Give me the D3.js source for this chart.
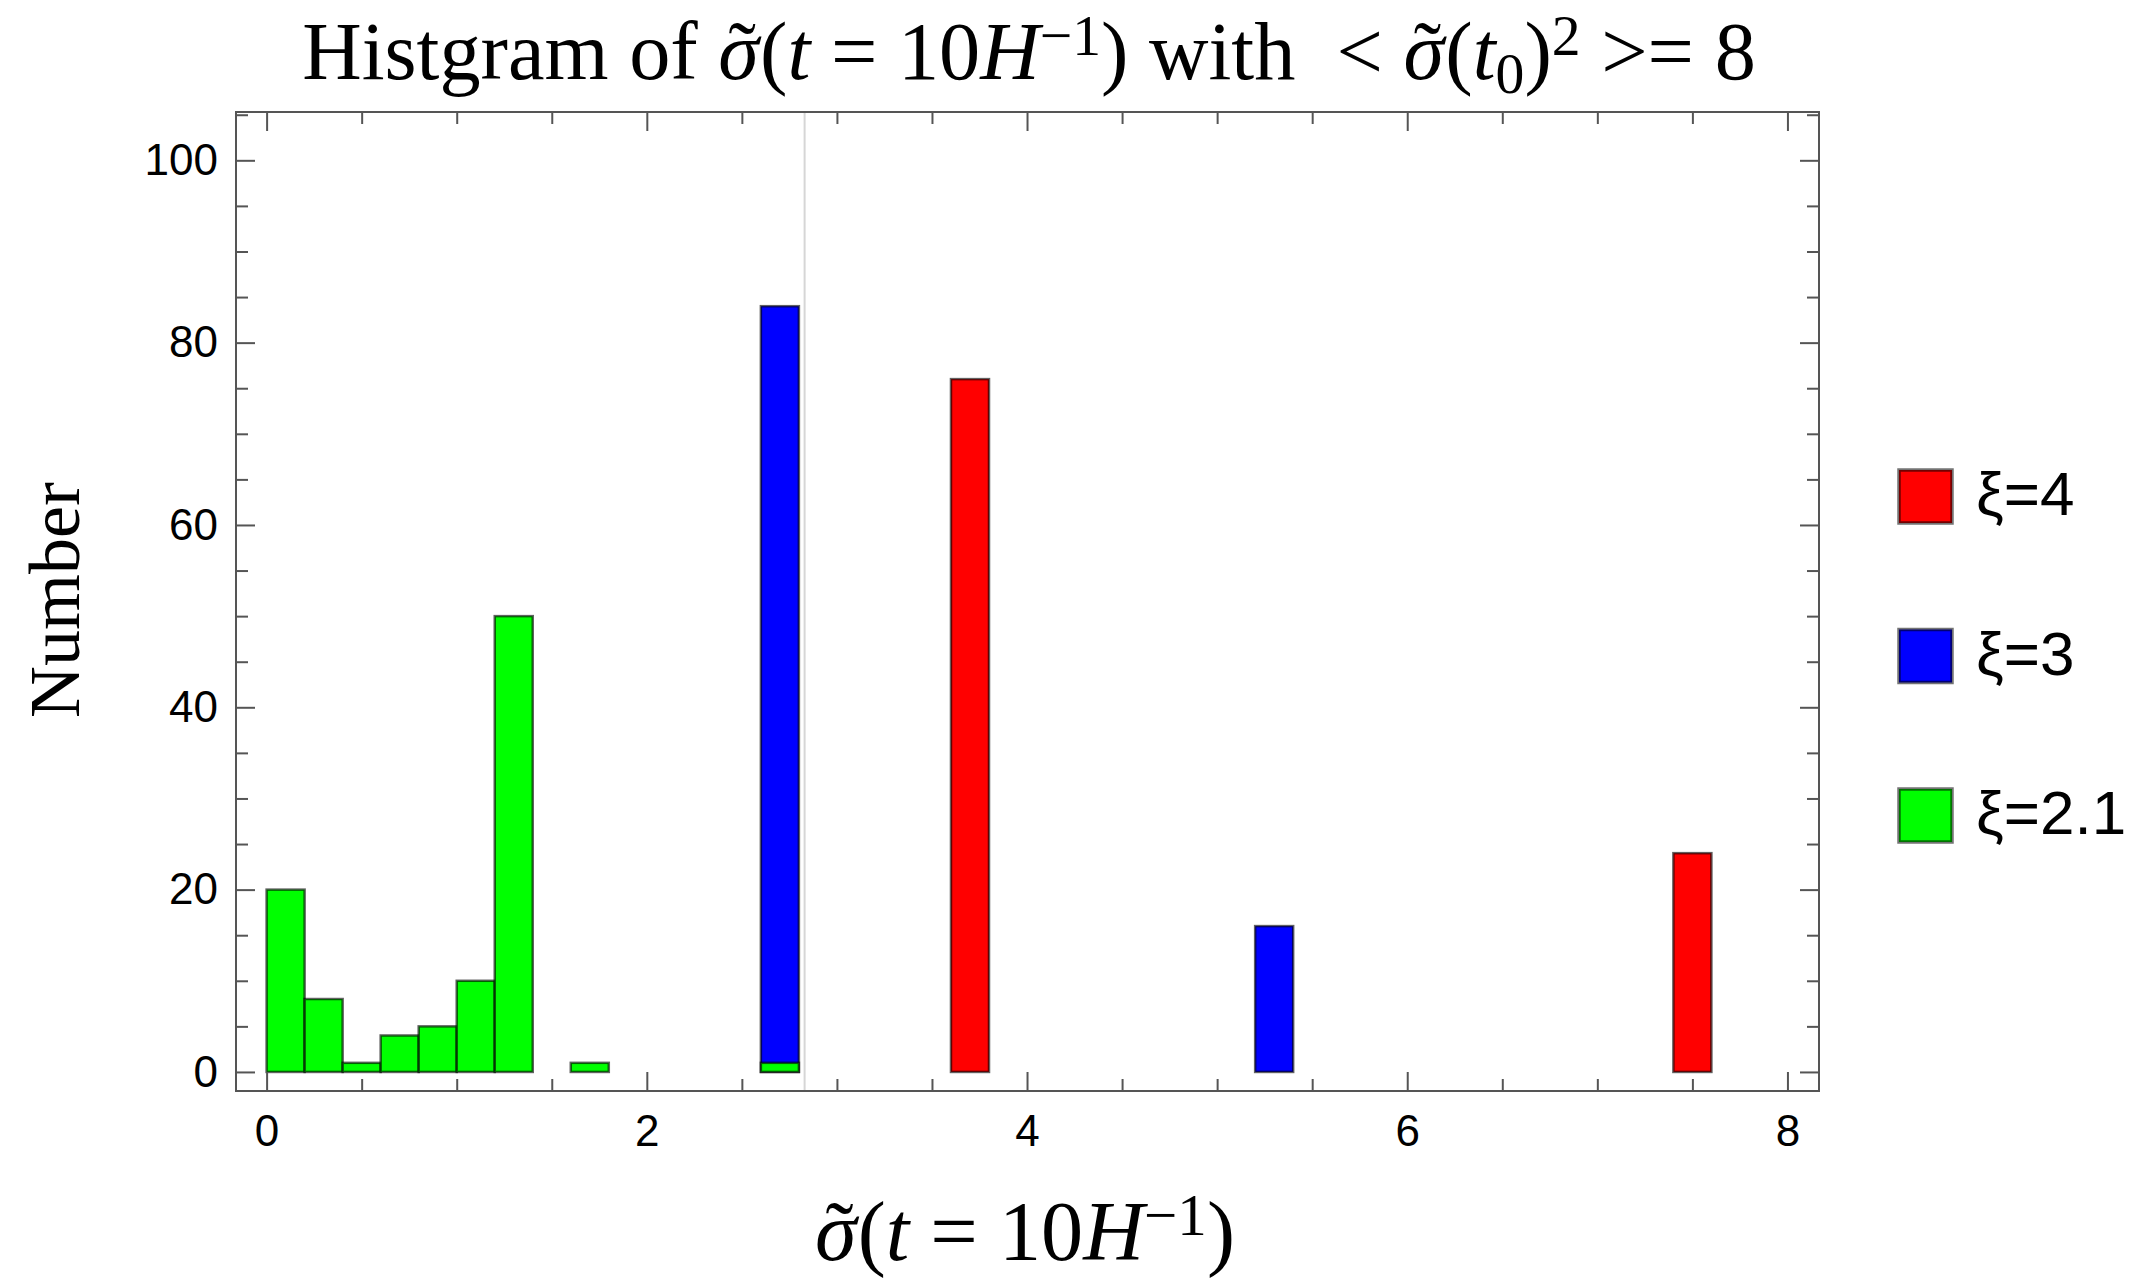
<!DOCTYPE html>
<html lang="en">
<head>
    <meta charset="UTF-8">
    <title>Histgram of sigma</title>
    <script src="https://cdnjs.cloudflare.com/ajax/libs/d3/7.8.5/d3.min.js"></script>
    <style>
        * { margin: 0; padding: 0; box-sizing: border-box; }
        body { background: #ffffff; width: 2140px; height: 1279px; overflow: hidden; }
        .tick text { font-family: "Liberation Sans", Arial, sans-serif; font-size: 44px; fill: #000; }
        .tick line { stroke: #555; stroke-width: 2; }
        .serif { font-family: "Liberation Serif", "Times New Roman", serif; fill: #000; }
    </style>
</head>
<body>
<div id="plot"></div>

<script>
    // Histogram data (bin width 0.2)
    const binWidth = 0.2;
    const redStarts = [3.6, 7.4];
    const redCounts = [76, 24];
    const blueStarts = [2.6, 5.2];
    const blueCounts = [84, 16];
    const greenStarts = [0, 0.2, 0.4, 0.6, 0.8, 1.0, 1.2, 1.6, 2.6];
    const greenCounts = [20, 8, 1, 4, 5, 10, 50, 1, 1];

    const seriesNames = ["ξ=4", "ξ=3", "ξ=2.1"];
    const seriesColors = ["#ff0000", "#0000ff", "#00ff00"];

    const xTicksMajor = [0, 2, 4, 6, 8];
    const yTicksMajor = [0, 20, 40, 60, 80, 100];
    const refLine = 2.83;   // light gray vertical line

    const width = 2140, height = 1279;
    const frame = {left: 236, right: 1819, top: 112, bottom: 1091};

    const svg = d3.select("#plot").append("svg")
        .attr("width", width)
        .attr("height", height);

    const x = d3.scaleLinear().domain([-0.161, 8.166]).range([frame.left, frame.right]);
    const y = d3.scaleLinear().domain([-2.09, 105.3]).range([frame.bottom, frame.top]);

    // reference line
    svg.append("line")
        .attr("x1", x(refLine)).attr("x2", x(refLine))
        .attr("y1", frame.top).attr("y2", frame.bottom)
        .attr("stroke", "#d6d6d6")
        .attr("stroke-width", 2);

    // bars, drawn red -> blue -> green so green sits on top
    const series = [
        {starts: redStarts, counts: redCounts},
        {starts: blueStarts, counts: blueCounts},
        {starts: greenStarts, counts: greenCounts}
    ];

    series.forEach((s, i) => {
        const bins = s.starts.map((d, j) => ({x0: d, x1: d + binWidth, n: s.counts[j]}));
        svg.append("g").selectAll("rect")
            .data(bins)
            .join("rect")
            .attr("x", d => x(d.x0))
            .attr("y", d => y(d.n))
            .attr("width", d => x(d.x1) - x(d.x0))
            .attr("height", d => y(0) - y(d.n))
            .attr("fill", seriesColors[i])
            .attr("stroke", "#000")
            .attr("stroke-opacity", 0.62)
            .attr("stroke-width", 2.5);
    });

    // frame ticks (all pointing inward)
    const xMinor = d3.range(0, 8.01, 0.5).filter(v => v % 2 !== 0);
    const yMinor = d3.range(0, 106, 5).filter(v => v % 20 !== 0);

    function addAxis(axisFn, scale, pos, values, size, labels) {
        const a = axisFn(scale).tickValues(values).tickSize(-size);
        if (!labels) a.tickFormat("");
        const g = svg.append("g").attr("transform", pos).call(a);
        g.select(".domain").remove();
        return g;
    }

    const gxb = addAxis(d3.axisBottom, x, `translate(0,${frame.bottom})`, xTicksMajor, 19, true);
    gxb.selectAll("text").attr("y", 24);
    addAxis(d3.axisBottom, x, `translate(0,${frame.bottom})`, xMinor, 12, false);
    addAxis(d3.axisTop, x, `translate(0,${frame.top})`, xTicksMajor, 19, false);
    addAxis(d3.axisTop, x, `translate(0,${frame.top})`, xMinor, 12, false);

    const gyl = addAxis(d3.axisLeft, y, `translate(${frame.left},0)`, yTicksMajor, 19, true);
    gyl.selectAll("text").attr("x", -18);
    addAxis(d3.axisLeft, y, `translate(${frame.left},0)`, yMinor, 12, false);
    addAxis(d3.axisRight, y, `translate(${frame.right},0)`, yTicksMajor, 19, false);
    addAxis(d3.axisRight, y, `translate(${frame.right},0)`, yMinor, 12, false);

    // frame
    svg.append("rect")
        .attr("x", frame.left).attr("y", frame.top)
        .attr("width", frame.right - frame.left)
        .attr("height", frame.bottom - frame.top)
        .attr("fill", "none")
        .attr("stroke", "#555")
        .attr("stroke-width", 2);

    // math-style text from segments, scaled to a target width
    function mathText(parts, cx, baseline, fontSize, targetWidth) {
        const t = svg.append("text")
            .attr("class", "serif")
            .attr("x", cx).attr("y", baseline)
            .attr("text-anchor", "middle")
            .style("font-size", fontSize + "px")
            .attr("xml:space", "preserve");
        parts.forEach(p => {
            const ts = t.append("tspan").text(p.t);
            if (p.it) ts.style("font-style", "italic");
            if (p.sup) ts.attr("dy", "-0.42em").style("font-size", "0.7em");
            if (p.sub) ts.attr("dy", "0.25em").style("font-size", "0.7em");
            if (p.back) ts.attr("dy", p.back);
            if (p.dx) ts.attr("dx", p.dx);
        });
        const w = t.node().getBBox().width;
        t.style("font-size", (fontSize * targetWidth / w) + "px");
        return t;
    }

    // small tilde placed over the italic sigma
    const sigmaTilde = [
        {t: "σ", it: true},
        {t: "˜", dx: "-0.37em"}
    ];

    mathText([
        {t: "Histgram of "},
        ...sigmaTilde,
        {t: "(", dx: "0.05em"},
        {t: "t", it: true},
        {t: " = 10"},
        {t: "H", it: true},
        {t: "−1", sup: true},
        {t: ") with  < ", back: "0.294em"},
        ...sigmaTilde,
        {t: "(", dx: "0.05em"},
        {t: "t", it: true},
        {t: "0", sub: true},
        {t: ")", back: "-0.175em"},
        {t: "2", sup: true},
        {t: " >= 8", back: "0.294em"}
    ], 1029, 79, 74, 1454);

    mathText([
        ...sigmaTilde,
        {t: "(", dx: "0.05em"},
        {t: "t", it: true},
        {t: " = 10"},
        {t: "H", it: true},
        {t: "−1", sup: true},
        {t: ")", back: "0.294em"}
    ], 1025, 1260, 74, 420);

    // y axis label
    svg.append("text")
        .attr("class", "serif")
        .attr("transform", "translate(79,600) rotate(-90)")
        .attr("text-anchor", "middle")
        .style("font-size", "72px")
        .text("Number");

    // legend
    const legendY = d3.scalePoint().domain(seriesNames).range([496, 815]);
    const lg = svg.append("g").selectAll("g")
        .data(seriesNames)
        .join("g")
        .attr("transform", d => `translate(1899,${legendY(d)})`);

    lg.append("rect")
        .attr("x", 0).attr("y", -26)
        .attr("width", 53).attr("height", 53)
        .attr("fill", (d, i) => seriesColors[i])
        .attr("stroke", "#000")
        .attr("stroke-opacity", 0.55)
        .attr("stroke-width", 3.5);

    lg.append("text")
        .attr("x", 77).attr("y", 19)
        .style("font-family", "'Liberation Sans', Arial, sans-serif")
        .style("font-size", "62px")
        .text(d => d);
</script>
</body>
</html>
